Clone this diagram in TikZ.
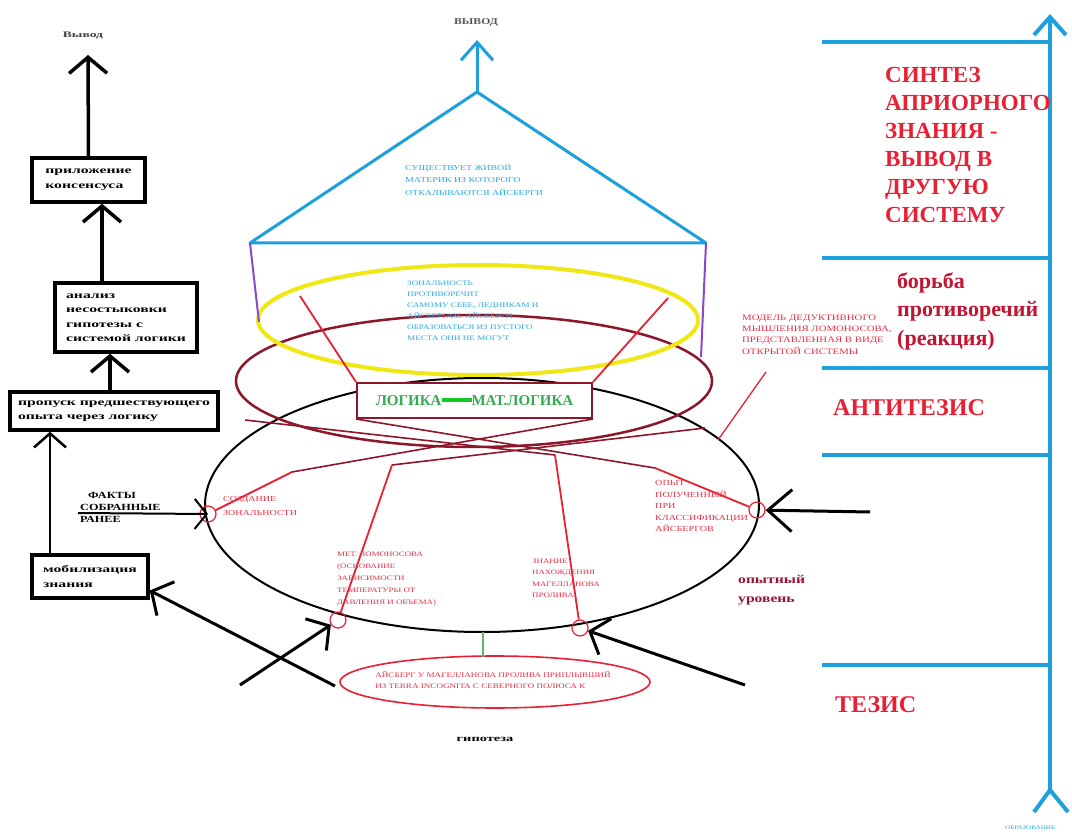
\documentclass[tikz,border=0pt]{standalone}
\usepackage{fontspec}
\setmainfont{Liberation Serif}
\newfontfamily\wideA[FakeStretch=1.3]{Liberation Serif}
\newfontfamily\wideC[FakeStretch=1.6]{Liberation Serif}
\usetikzlibrary{arrows.meta,shapes.geometric}
\definecolor{lblue}{RGB}{30,160,220}
\definecolor{tblue}{RGB}{45,170,225}
\definecolor{rred}{RGB}{232,32,52}
\definecolor{tred}{RGB}{232,48,70}
\definecolor{mar}{RGB}{140,22,42}
\definecolor{yel}{RGB}{240,232,20}
\definecolor{purp}{RGB}{140,70,200}
\definecolor{lgreen}{RGB}{50,170,80}
\definecolor{bgreen}{RGB}{20,200,40}
\definecolor{dred}{RGB}{195,20,50}
\definecolor{mred}{RGB}{150,20,50}
\tikzset{
  bx/.style={draw, fill=white, line width=3.5pt, inner sep=0pt, align=left,
    font=\wideC\bfseries\fontsize{9.8}{14.5}\selectfont},
  barb/.style={line width=3.5pt, -{Straight Barb[length=16pt,width=38pt]}},
  sbarb/.style={line width=2pt, -{Straight Barb[length=12pt,width=30pt]}},
  bbarb/.style={draw=lblue, line width=3pt, -{Straight Barb[length=18pt,width=32pt]}},
  rc/.style={circle, draw=rred, line width=1.2pt, minimum size=16pt, inner sep=0pt},
  rtxt/.style={inner sep=0pt, anchor=west, align=left, text=tred},
  btxt/.style={inner sep=0pt, anchor=west, align=left, text=tblue},
  redl/.style={draw=rred, line width=1.8pt},
  marl/.style={draw=mar, line width=1.6pt},
  big/.style={inner sep=0pt, anchor=west, align=left, text=rred,
    font=\bfseries\fontsize{23}{28}\selectfont},
  bline/.style={draw=lblue, line width=4pt}
}
\begin{document}
\begin{tikzpicture}[x=1pt,y=-1pt]
\useasboundingbox (0,0) rectangle (1072,834);
\fill[white] (0,0) rectangle (1072,834);

% ---------- ellipses ----------
\draw[black, line width=2pt] (482,505) ellipse [x radius=277pt, y radius=127pt];
\draw[mar, line width=2.5pt] (474,381) ellipse [x radius=238pt, y radius=66pt];
\draw[yel, line width=4pt] (478,320) ellipse [x radius=220pt, y radius=55pt];

% ---------- triangle ----------
\coordinate (apex) at (477,92);
\coordinate (tl) at (250,243);
\coordinate (tr) at (706,243);
\coordinate (vtop) at (477,40);
\coordinate (yl) at (259,322);
\coordinate (yr) at (701,357);
\draw[lblue, line width=3pt, line join=round] (tl) -- (apex) -- (tr) -- cycle;
\draw[bbarb] (apex) -- (vtop);
\draw[purp, line width=2pt] (tl) -- (yl);
\draw[purp, line width=2pt] (tr) -- (yr);
\node[inner sep=0pt, text=black!65, font=\wideA\bfseries\fontsize{9}{11}\selectfont] (vyv2) at (476,22) {ВЫВОД};

% ---------- logic box ----------
\node[draw=mar, fill=white, line width=2pt, minimum width=235pt, minimum height=35pt, inner sep=0pt,
  text=lgreen, font=\bfseries\fontsize{15}{18}\selectfont] (logic) at (474.5,400.5)
  {ЛОГИКА\textcolor{bgreen}{\rule[0.25em]{30pt}{4pt}}МАТ.ЛОГИКА};

% ---------- red circles ----------
\node[rc] (cA) at (208,514) {};
\node[rc] (cB) at (757,510) {};
\node[rc] (cC) at (338,620) {};
\node[rc] (cD) at (580,628) {};

% ---------- network ----------
\coordinate (P1) at (292,472);
\coordinate (P2) at (655,468);
\coordinate (P3) at (392,465);
\coordinate (P4) at (555,455);
\coordinate (E1) at (245,420);
\coordinate (E2) at (705,428);
\coordinate (Y1) at (300,296);
\coordinate (Y2) at (668,298);
\coordinate (M1) at (766,372);
\coordinate (M2) at (718,440);
\draw[marl] (logic.south west) -- (P2);
\draw[marl] (logic.south east) -- (P1);
\draw[marl] (P3) -- (E2);
\draw[marl] (P4) -- (E1);
\draw[redl] (cA) -- (P1);
\draw[redl] (cB) -- (P2);
\draw[redl] (cC) -- (P3);
\draw[redl] (cD) -- (P4);
\draw[redl] (Y1) -- (logic.north west);
\draw[redl] (Y2) -- (logic.north east);
\draw[redl, line width=1.3pt] (M1) -- (M2);

% ---------- blue texts ----------
\node[btxt, font=\wideA\fontsize{7.6}{12.5}\selectfont] (tritxt) at (405,179.5)
  {СУЩЕСТВУЕТ ЖИВОЙ\\МАТЕРИК ИЗ КОТОРОГО\\ОТКАЛЫВАЮТСЯ АЙСБЕРГИ};
\node[btxt, font=\wideA\fontsize{7}{11}\selectfont] (yeltxt) at (407,310.5)
  {ЗОНАЛЬНОСТЬ\\ПРОТИВОРЕЧИТ\\САМОМУ СЕБЕ, ЛЕДНИКАМ И\\АЙСБЕРГАМ. АЙСБЕРГИ\\ОБРАЗОВАТЬСЯ ИЗ ПУСТОГО\\МЕСТА ОНИ НЕ МОГУТ};

% ---------- red small texts ----------
\node[rtxt, font=\wideA\fontsize{8.3}{11.3}\selectfont] (model) at (742,334.5)
  {МОДЕЛЬ ДЕДУКТИВНОГО\\МЫШЛЕНИЯ ЛОМОНОСОВА,\\ПРЕДСТАВЛЕННАЯ В ВИДЕ\\ОТКРЫТОЙ СИСТЕМЫ};
\node[rtxt, font=\wideA\fontsize{7.7}{14}\selectfont] (sozd) at (223,505.5)
  {СОЗДАНИЕ\\ЗОНАЛЬНОСТИ};
\node[rtxt, font=\wideA\fontsize{7.8}{11.5}\selectfont] (opyt) at (655,506)
  {ОПЫТ\\ПОЛУЧЕННЫЙ\\ПРИ\\КЛАССИФИКАЦИИ\\АЙСБЕРГОВ};
\node[rtxt, font=\wideA\fontsize{6.8}{12}\selectfont] (met) at (337,579)
  {МЕТ. ЛОМОНОСОВА\\(ОСНОВАНИЕ\\ЗАВИСИМОСТИ\\ТЕМПЕРАТУРЫ ОТ\\ДАВЛЕНИЯ И ОБЪЕМА)};
\node[rtxt, font=\wideA\fontsize{6.8}{11.5}\selectfont] (znan) at (532,578.5)
  {ЗНАНИЕ\\НАХОЖДЕНИЯ\\МАГЕЛЛАНОВА\\ПРОЛИВА};

% ---------- hypothesis ellipse ----------
\draw[rred, line width=1.6pt] (495,682) ellipse [x radius=155pt, y radius=26pt];
\node[inner sep=0pt, align=left, text=tred, font=\wideA\fontsize{7}{11}\selectfont] (hyp) at (493,680.5)
  {АЙСБЕРГ У МАГЕЛЛАНОВА ПРОЛИВА ПРИПЛЫВШИЙ\\ИЗ TERRA INCOGNITA С СЕВЕРНОГО ПОЛЮСА К};
\coordinate (ebot) at (483,632);
\coordinate (etop) at (483,657);
\draw[black!50!green!60, line width=1.2pt] (ebot) -- (etop);
\node[inner sep=0pt, font=\wideC\bfseries\fontsize{9}{11}\selectfont] (gip) at (485,739) {гипотеза};

% ---------- left column ----------
\node[inner sep=0pt, text=black!75, font=\wideC\bfseries\fontsize{8.5}{10}\selectfont] (vyv1) at (83,35) {Вывод};
\node[bx, minimum width=113pt, minimum height=44pt] (b1) at (88.5,180)
  {приложение\\консенсуса};
\node[bx, minimum width=142pt, minimum height=69pt] (b2) at (126,317.5)
  {анализ\\несостыковки\\гипотезы с\\системой логики};
\node[bx, minimum width=208pt, minimum height=38pt] (b3) at (114,411)
  {пропуск предшествующего\\опыта через логику};
\node[bx, minimum width=116pt, minimum height=43pt] (b4) at (90,576.5)
  {мобилизация\\знания};
\coordinate (t1) at (88,55);
\coordinate (a2) at (102,0);
\coordinate (a3) at (110,0);
\coordinate (a4) at (50,0);
\draw[barb] (b1.north) -- (t1);
\draw[barb] (b2.north -| a2) -- (b1.south -| a2);
\draw[barb] (b3.north -| a3) -- (b2.south -| a3);
\draw[line width=2.5pt, -{Straight Barb[length=14pt,width=32pt]}] (b4.north -| a4) -- (b3.south -| a4);

% facts
\node[inner sep=0pt, anchor=west, align=left, font=\wideA\bfseries\fontsize{9.4}{12}\selectfont] (facts) at (80,507)
  {\hspace*{8pt}ФАКТЫ\\СОБРАННЫЕ\\РАНЕЕ};
\coordinate (f0) at (78,513);
\draw[sbarb] (f0) -- (cA.center);

% ---------- black arrows ----------
\coordinate (r0) at (870,512);
\coordinate (l0) at (240,685);
\coordinate (rr0) at (745,685);
\coordinate (ll0) at (335,686);
\draw[barb, line width=3pt, -{Straight Barb[length=24pt,width=42pt]}] (r0) -- (cB);
\draw[barb, line width=3pt] (l0) -- (cC);
\draw[barb, line width=3pt] (rr0) -- (cD);
\draw[barb, line width=3pt] (ll0) -- ([yshift=-14pt]b4.east);

\node[inner sep=0pt, anchor=west, align=left, text=mred, font=\wideA\bfseries\fontsize{12}{19}\selectfont] (opur) at (738,590)
  {опытный\\уровень};

% ---------- right scale ----------
\coordinate (vtopR) at (1050,14);
\coordinate (vbot) at (1050,790);
\coordinate (wl) at (1034,812);
\coordinate (wr) at (1068,812);
\draw[bline, -{Straight Barb[length=18pt,width=32pt]}] (vbot) -- (vtopR);
\draw[bline] (vbot) -- (wl);
\draw[bline] (vbot) -- (wr);
\foreach \yy/\nm in {42/h1,258/h2,368/h3,455/h4,665/h5}{
  \coordinate (\nm) at (822,\yy);
  \draw[bline] (\nm) -- (\nm -| vbot);
}
\node[inner sep=0pt, anchor=west, text=tblue, font=\wideA\fontsize{5.5}{7}\selectfont] (obr) at (1005,828) {ОБРАЗОВАНИЕ};

\node[big] (synth) at (885,145) {СИНТЕЗ\\АПРИОРНОГО\\ЗНАНИЯ -\\ВЫВОД В\\ДРУГУЮ\\СИСТЕМУ};
\node[big, text=dred, font=\bfseries\fontsize{22}{28.5}\selectfont] (borba) at (897,311) {борьба\\противоречий\\(реакция)};
\node[big, font=\bfseries\fontsize{24}{28}\selectfont] (anti) at (833,408) {АНТИТЕЗИС};
\node[big, font=\bfseries\fontsize{24}{28}\selectfont] (tez) at (835,705) {ТЕЗИС};
\end{tikzpicture}
\end{document}
